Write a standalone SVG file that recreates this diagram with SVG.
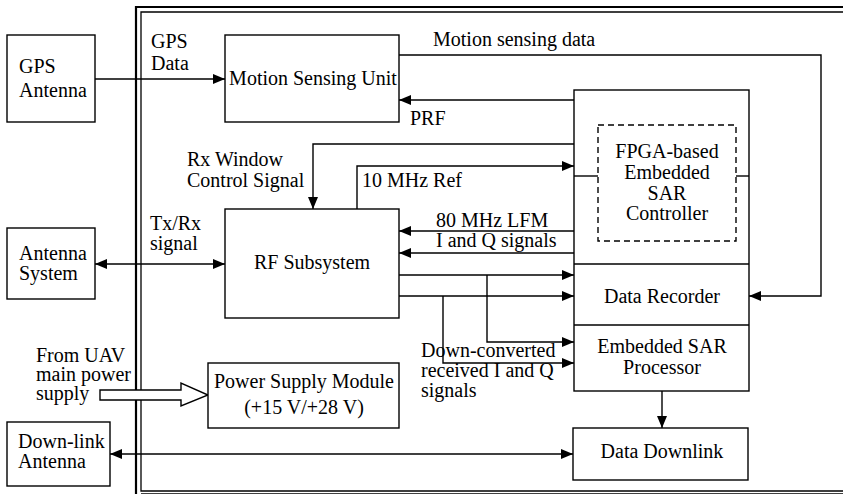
<svg xmlns="http://www.w3.org/2000/svg" width="843" height="494" viewBox="0 0 843 494">
  <style>
    .box { fill: #fff; stroke: #000; stroke-width: 1.4; }
    .dash { fill: none; stroke: #000; stroke-width: 1.4; stroke-dasharray: 6 4; }
    .wire { fill: none; stroke: #000; stroke-width: 1.4; }
    .arr { fill: none; stroke: #000; stroke-width: 1.4; marker-end: url(#head); }
    .bi { fill: none; stroke: #000; stroke-width: 1.4; marker-start: url(#head); marker-end: url(#head); }
    text { font-family: "Liberation Serif", "Times New Roman", serif; font-size: 20px; fill: #000; }
    .c { text-anchor: middle; }
  </style>
  <defs>
    <marker id="head" markerUnits="userSpaceOnUse" markerWidth="13" markerHeight="11" refX="12" refY="5" orient="auto-start-reverse">
      <path d="M0,0 L12,5 L0,10 z" fill="#000"/>
    </marker>
  </defs>
  <rect width="843" height="494" fill="#fff"/>

  <!-- system enclosure (double frame) -->
  <g id="enclosure">
    <path d="M136,498 V7 H850" fill="none" stroke="#000" stroke-width="2.2"/>
    <path d="M850,12 H141 V491 H850" fill="none" stroke="#000" stroke-width="1.3"/>
    <path d="M141,494 H850" fill="none" stroke="#000" stroke-width="1.3"/>
  </g>

  <!-- connectors -->
  <g id="connectors">
    <line class="arr" x1="95" y1="79" x2="225" y2="79"/>
    <line class="bi" x1="95" y1="264" x2="225" y2="264"/>
    <line class="bi" x1="110" y1="454" x2="573" y2="454"/>
    <polyline class="arr" points="399,55 821,55 821,296 749,296"/>
    <line class="arr" x1="574" y1="100" x2="399" y2="100"/>
    <polyline class="arr" points="574,144 313,144 313,209"/>
    <polyline class="arr" points="357,209 357,166 574,166"/>
    <line class="arr" x1="574" y1="231" x2="399" y2="231"/>
    <line class="arr" x1="574" y1="253" x2="399" y2="253"/>
    <line class="arr" x1="399" y1="275" x2="574" y2="275"/>
    <line class="arr" x1="399" y1="296" x2="574" y2="296"/>
    <polyline class="arr" points="487,275 487,342 574,342"/>
    <polyline class="arr" points="443,296 443,363 574,363"/>
    <line class="arr" x1="662" y1="391" x2="662" y2="428"/>
    <!-- main power feed -->
    <polygon points="100,390 181,390 181,383 208,395 181,406 181,400 100,400" fill="#fff" stroke="#000" stroke-width="1.4"/>
  </g>

  <g id="gps-antenna">
    <rect class="box" x="7" y="35" width="88" height="87"/>
    <text x="19" y="73">GPS</text>
    <text x="19" y="97">Antenna</text>
  </g>

  <g id="motion-sensing-unit">
    <rect class="box" x="225" y="35" width="174" height="87"/>
    <text class="c" x="313" y="85">Motion Sensing Unit</text>
  </g>

  <g id="rf-subsystem">
    <rect class="box" x="225" y="209" width="174" height="109"/>
    <text class="c" x="312" y="269">RF Subsystem</text>
  </g>

  <g id="antenna-system">
    <rect class="box" x="7" y="228" width="88" height="71"/>
    <text x="19" y="260">Antenna</text>
    <text x="19" y="280">System</text>
  </g>

  <g id="power-supply">
    <rect class="box" x="208" y="363" width="191" height="65"/>
    <text class="c" x="304" y="388">Power Supply Module</text>
    <text class="c" x="304" y="414">(+15 V/+28 V)</text>
  </g>

  <g id="downlink-antenna">
    <rect class="box" x="7" y="422" width="103" height="64"/>
    <text x="18" y="448">Down-link</text>
    <text x="18" y="468">Antenna</text>
  </g>

  <g id="sar-unit">
    <rect class="box" x="574" y="90" width="175" height="301"/>
    <line class="wire" x1="574" y1="264" x2="749" y2="264"/>
    <line class="wire" x1="574" y1="325" x2="749" y2="325"/>
  </g>

  <g id="sar-controller">
    <rect class="dash" x="598" y="125" width="138" height="116"/>
    <line class="wire" x1="574" y1="176" x2="598" y2="176"/>
    <line class="wire" x1="736" y1="176" x2="749" y2="176"/>
    <text class="c" x="667" y="158">FPGA-based</text>
    <text class="c" x="667" y="179">Embedded</text>
    <text class="c" x="667" y="200">SAR</text>
    <text class="c" x="667" y="220">Controller</text>
  </g>

  <g id="data-recorder">
    <text class="c" x="662" y="303">Data Recorder</text>
  </g>

  <g id="sar-processor">
    <text class="c" x="662" y="353">Embedded SAR</text>
    <text class="c" x="662" y="374">Processor</text>
  </g>

  <g id="data-downlink">
    <rect class="box" x="573" y="428" width="175" height="52"/>
    <text class="c" x="662" y="458">Data Downlink</text>
  </g>

  <!-- connector labels -->
  <g id="labels">
    <text x="151" y="48">GPS</text>
    <text x="151" y="70">Data</text>
    <text x="433" y="46">Motion sensing data</text>
    <text x="410" y="125">PRF</text>
    <text x="187" y="166">Rx Window</text>
    <text x="187" y="187">Control Signal</text>
    <text x="362" y="187">10 MHz Ref</text>
    <text x="436" y="227">80 MHz LFM</text>
    <text x="436" y="247">I and Q signals</text>
    <text x="150" y="230">Tx/Rx</text>
    <text x="150" y="250">signal</text>
    <text x="36" y="362">From UAV</text>
    <text x="36" y="381">main power</text>
    <text x="36" y="400">supply</text>
    <text x="421" y="357">Down-converted</text>
    <text x="421" y="377">received I and Q</text>
    <text x="421" y="397">signals</text>
  </g>
</svg>
